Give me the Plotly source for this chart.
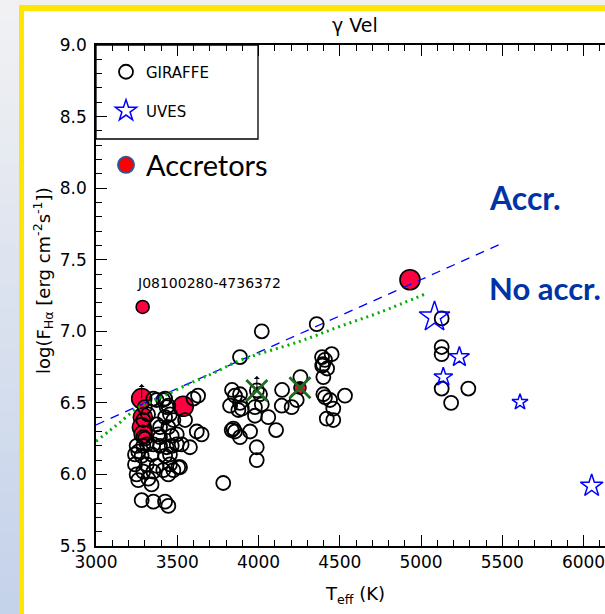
import plotly.graph_objects as go

# ---------------- data ----------------
giraffe_teff = [
    4020, 4358, 3886,
    4391, 4409, 4450, 4397, 4422, 4392,
    4399, 4258,
    4145, 3837, 3855, 3886, 3825, 3886, 3897, 3876,
    3990, 4009, 4020, 3978, 3978, 4060, 3948,
    3845, 3855, 3886, 3835,
    3989, 3989, 3783, 4108,
    4143, 4204, 4235,
    4399, 4409, 4440, 4460, 4420, 4460,
    4532,
    5127, 5127, 5127, 5127, 5291, 5185,
    3600, 3628, 3650, 3620, 3548,
    3373, 3425, 3445, 3455, 3476, 3445, 3394, 3394, 3466, 3497,
    3353, 3414, 3435, 3425, 3373, 3383,
    3291, 3291, 3291, 3353, 3527, 3578,
    3250, 3312, 3394, 3466, 3497,
    3240, 3281, 3342, 3425, 3455,
    3240, 3312, 3373, 3455, 3517,
    3250, 3291, 3353, 3414, 3445, 3476,
    3260, 3322, 3342,
    3281, 3353, 3425, 3445,
    3302, 3260, 3435, 3506,
    3300, 3320,
]
giraffe_logf = [
    7.00, 7.05, 6.82,
    6.82, 6.80, 6.84, 6.77, 6.74, 6.76,
    6.68, 6.68,
    6.59, 6.59, 6.55, 6.56, 6.48, 6.50, 6.46, 6.45,
    6.587, 6.56, 6.49, 6.47, 6.41, 6.40, 6.30,
    6.32, 6.30, 6.26, 6.31,
    6.19, 6.10, 5.94, 6.31,
    6.48, 6.47, 6.52,
    6.56, 6.54, 6.52, 6.46, 6.39, 6.38,
    6.55,
    7.09, 6.89, 6.84, 6.60, 6.60, 6.50,
    6.53, 6.55, 6.28, 6.30, 6.38,
    6.52, 6.53, 6.48, 6.42, 6.38, 6.33, 6.33, 6.26, 6.27, 6.28,
    6.53, 6.52, 6.47, 6.40, 6.35, 6.28,
    6.38, 6.26, 6.20, 6.21, 6.21, 6.19,
    6.20, 6.21, 6.20, 6.20, 6.21,
    6.14, 6.13, 6.14, 6.13, 6.14,
    6.07, 6.07, 6.06, 6.07, 6.05,
    6.00, 6.02, 6.02, 6.03, 6.00, 6.03,
    5.96, 5.97, 5.93,
    5.82, 5.81, 5.81, 5.78,
    6.25, 6.16, 6.19, 6.05,
    6.47, 6.42,
]

uves_teff = [5083, 5236, 5137, 5609, 6050]
uves_logf = [7.10, 6.82, 6.68, 6.505, 5.92]

acc_teff = [3287, 3281, 3537, 4932, 3288, 3282, 3290, 4255]
acc_logf = [7.17, 6.53, 6.476, 7.36, 6.40, 6.33, 6.28, 6.605]

cross_teff = [3990, 4255]
cross_logf = [6.587, 6.605]

limit_teff = [3281, 3990]
limit_logf = [6.53, 6.587]

# accretion thresholds
dash_teff = [3000, 5500]
dash_logf = [6.346, 7.615]
dot_teff = [3000, 3086, 3148, 3252, 3332, 3425, 3578, 3732, 3886, 4255, 4502, 4748, 5037]
dot_logf = [6.231, 6.308, 6.364, 6.462, 6.503, 6.552, 6.636, 6.713, 6.797, 6.930, 7.035, 7.133, 7.266]

x_ticks = [3000, 3500, 4000, 4500, 5000, 5500, 6000]
y_ticks = [5.5, 6.0, 6.5, 7.0, 7.5, 8.0, 8.5, 9.0]
x_range = [3000, 6132]
y_range = [5.5, 9.0]

# ---------------- styles ----------------
uves_size = [23, 15, 14, 12, 17]
acc_size = [13, 20, 20, 20, 19, 19, 18, 12]

W, H = 605, 614
PL, PR, PT, PB = 96, 605, 45, 546  # plot-area box in pixels


def px_x(px):
    return (px - PL) / (PR - PL)


def px_y(py):
    return (PB - py) / (PB - PT)


AXFONT = "DejaVu Sans"

fig = go.Figure()

# accretors (drawn first so open symbols sit on top of them)
fig.add_trace(go.Scatter(
    x=acc_teff, y=acc_logf, mode="markers", showlegend=False,
    marker=dict(symbol="circle", size=acc_size, color="#FF0040", opacity=1,
                line=dict(color="black", width=1.6)),
))

fig.add_trace(go.Scatter(
    x=giraffe_teff, y=giraffe_logf, mode="markers", name="GIRAFFE",
    legend="legend",
    marker=dict(symbol="circle-open", size=14, color="black", opacity=1,
                line=dict(color="black", width=1.8)),
))

fig.add_trace(go.Scatter(
    x=uves_teff, y=uves_logf, mode="markers", name="UVES",
    legend="legend2",
    marker=dict(symbol="star-open", size=uves_size, color="#0000FF", opacity=1,
                line=dict(color="#0000FF", width=1.5)),
))

fig.add_trace(go.Scatter(
    x=cross_teff, y=cross_logf, mode="markers", showlegend=False,
    marker=dict(symbol="x-thin", size=21, color="#1F6B1F", opacity=1,
                line=dict(color="#1F6B1F", width=2.8)),
))

# legend-only entry for accretors
fig.add_trace(go.Scatter(
    x=[None], y=[None], mode="markers", name="Accretors",
    legend="legend3",
    marker=dict(symbol="circle", size=20, color="#FF0000", opacity=1,
                line=dict(color="#2F5597", width=2)),
))

fig.add_trace(go.Scatter(
    x=dash_teff, y=dash_logf, mode="lines", showlegend=False,
    line=dict(color="#0000FF", width=1.3, dash="9px,7px"),
))
fig.add_trace(go.Scatter(
    x=dot_teff, y=dot_logf, mode="lines", showlegend=False,
    line=dict(color="#00B000", width=3, dash="2px,4px", shape="spline"),
))

# ---------------- background frame ----------------
shapes = []
n_band = 30
top_rgb = (241, 241, 243)
bot_rgb = (196, 210, 234)
for i in range(n_band):
    f = i / (n_band - 1)
    c = tuple(round(top_rgb[k] + (bot_rgb[k] - top_rgb[k]) * f) for k in range(3))
    y0 = i * H / n_band
    y1 = (i + 1) * H / n_band + 0.5
    shapes.append(dict(type="rect", xref="paper", yref="paper", layer="below",
                       x0=px_x(0), x1=px_x(19.5), y0=px_y(y1), y1=px_y(y0),
                       line=dict(width=0), fillcolor="rgb(%d,%d,%d)" % c))
shapes.append(dict(type="rect", xref="paper", yref="paper", layer="below",
                   x0=px_x(19), x1=px_x(W + 5), y0=px_y(5.5), y1=px_y(-2),
                   line=dict(width=0), fillcolor="#EFEFEF"))
# yellow border
shapes.append(dict(type="rect", xref="paper", yref="paper", layer="below",
                   x0=px_x(19), x1=px_x(W + 5), y0=px_y(11), y1=px_y(5),
                   line=dict(width=0), fillcolor="#FFE500"))
shapes.append(dict(type="rect", xref="paper", yref="paper", layer="below",
                   x0=px_x(19), x1=px_x(24), y0=px_y(H + 5), y1=px_y(5),
                   line=dict(width=0), fillcolor="#FFE500"))
# legend box
shapes.append(dict(type="rect", xref="paper", yref="paper", layer="above",
                   x0=0, x1=px_x(258), y0=px_y(139), y1=1,
                   line=dict(color="black", width=1.3), fillcolor="rgba(0,0,0,0)"))

annotations = [
    dict(text="γ Vel", x=px_x(355), y=px_y(25), xref="paper", yref="paper",
         xanchor="center", yanchor="middle",
         showarrow=False, font=dict(family=AXFONT, size=19, color="black")),
    dict(text="T<sub>eff</sub> (K)", x=px_x(355), y=px_y(595), xref="paper", yref="paper",
         xanchor="center", yanchor="middle",
         showarrow=False, font=dict(family=AXFONT, size=18, color="black")),
    dict(text="log(F<sub>Hα</sub> [erg cm<sup>-2</sup>s<sup>-1</sup>])", textangle=-90,
         x=px_x(43), y=px_y(281), xref="paper", yref="paper",
         xanchor="center", yanchor="middle",
         showarrow=False, font=dict(family=AXFONT, size=18, color="black")),
    dict(text="J08100280-4736372", x=3240, y=7.336, xref="x", yref="y",
         xanchor="left", yanchor="middle", showarrow=False,
         font=dict(family=AXFONT, size=14, color="black")),
    dict(text="<b>Accr.</b>", x=px_x(487), y=px_y(197), xref="paper", yref="paper",
         xanchor="left", yanchor="middle", showarrow=False,
         font=dict(family="Lato", size=32, color="#0033A6")),
    dict(text="<b>No accr.</b>", x=px_x(487), y=px_y(288), xref="paper", yref="paper",
         xanchor="left", yanchor="middle", showarrow=False,
         font=dict(family="Lato", size=31, color="#0033A6")),
]
# upper-limit arrows
for t, v in zip(limit_teff, limit_logf):
    annotations.append(dict(text="", x=t, y=v, xref="x", yref="y", ax=0, ay=-16,
                            showarrow=True, arrowside="start", arrowhead=4,
                            arrowsize=1.0, arrowwidth=1, arrowcolor="black"))

fig.update_layout(
    width=W, height=H,
    margin=dict(l=PL, r=W - PR, t=PT, b=H - PB),
    paper_bgcolor="white", plot_bgcolor="white",
    shapes=shapes, annotations=annotations,
    xaxis=dict(range=x_range, tickvals=x_ticks, ticks="inside", ticklen=11,
               tickwidth=1.3, tickcolor="black", showline=True, linecolor="black",
               linewidth=1.5, mirror="ticks", showgrid=False, zeroline=False,
               ticklabeloverflow="allow",
               tickfont=dict(family=AXFONT, size=17, color="black"),
               minor=dict(dtick=100, ticklen=6, tickwidth=1.2, tickcolor="black",
                          ticks="inside", showgrid=False)),
    yaxis=dict(range=y_range, tickvals=y_ticks, tickformat=".1f", ticks="inside",
               ticklen=11, tickwidth=1.3, tickcolor="black", showline=True,
               linecolor="black", linewidth=1.5, mirror=False, showgrid=False,
               zeroline=False, ticklabelstandoff=4,
               tickfont=dict(family=AXFONT, size=17, color="black"),
               minor=dict(dtick=0.1, ticklen=6, tickwidth=1.2, tickcolor="black",
                          ticks="inside", showgrid=False)),
    legend=dict(x=px_x(106), y=px_y(72), xanchor="left", yanchor="middle",
                bgcolor="rgba(0,0,0,0)", borderwidth=0,
                font=dict(family=AXFONT, size=15, color="black")),
    legend2=dict(x=px_x(106), y=px_y(111), xanchor="left", yanchor="middle",
                 bgcolor="rgba(0,0,0,0)", borderwidth=0,
                 font=dict(family=AXFONT, size=15, color="black")),
    legend3=dict(x=px_x(106), y=px_y(165), xanchor="left", yanchor="middle",
                 bgcolor="rgba(0,0,0,0)", borderwidth=0,
                 font=dict(family="Lato", size=29, color="black")),
)

fig.write_html("out.html")
